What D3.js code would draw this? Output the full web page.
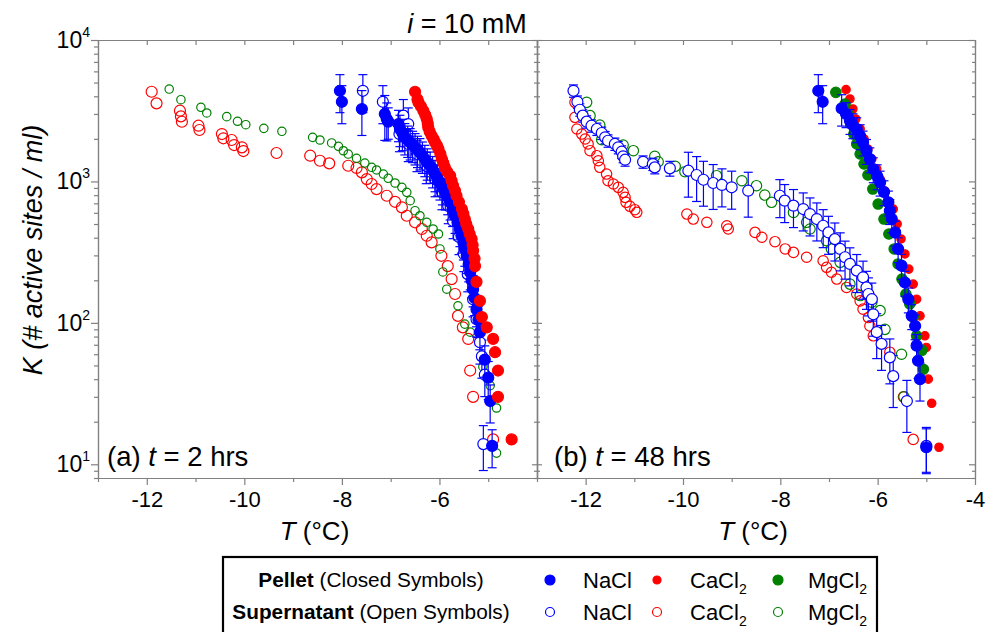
<!DOCTYPE html>
<html><head><meta charset="utf-8">
<script src="https://cdn.jsdelivr.net/npm/d3@7"></script>
<style>
body{margin:0;background:#fff}
svg{display:block}
text{font-family:"Liberation Sans",Arial,sans-serif;fill:#000}
</style>
</head><body>
<svg id="c" width="987" height="632"></svg>
<script>
// ---------- tick labels ----------
const xMajorA = [-12, -10, -8, -6];
const xMajorB = [-12, -10, -8, -6, -4];
const xMinor = [-13, -11, -9, -7, -5];
const xAll = [-13, -12, -11, -10, -9, -8, -7, -6, -5, -4];
const yMajorExp = [1, 2, 3, 4];
const yMinorTicks = [8, 9, 20, 30, 40, 50, 60, 70, 80, 90, 200, 300, 400, 500, 600, 700, 800, 900,
  2000, 3000, 4000, 5000, 6000, 7000, 8000, 9000];
const legendSalts = ["NaCl", "CaCl", "MgCl"];

// ---------- data: [T (°C), K, relative error] ----------
// (a) t = 2 hrs
const naclPelletA = [
  [-8.04,4375,.3],[-8.00,3656,.3],[-7.59,3251,.35],[-7.12,3000,.35],[-7.08,2761,.3],[-7.05,2650,.25],
  [-6.84,2545,.25],[-6.81,2349,.25],[-6.76,2200,.25],[-6.71,2052,.25],[-6.65,1970,.25],[-6.60,1890,.25],
  [-6.55,1810,.25],[-6.50,1743,.25],[-6.45,1670,.25],[-6.40,1606,.25],[-6.35,1520,.25],[-6.30,1440,.25],
  [-6.25,1360,.25],[-6.19,1291,.25],[-6.14,1200,.25],[-6.09,1127,.25],[-6.04,1050,.25],[-5.99,985,.25],
  [-5.94,910,.25],[-5.88,838,.25],[-5.83,775,.25],[-5.78,712,.25],[-5.73,640,.25],[-5.68,572,.25],
  [-5.63,515,.25],[-5.58,461,.25],[-5.55,415,.25],[-5.51,371,.25],[-5.48,335,.25],[-5.44,298,.25],
  [-5.40,260,.25],[-5.37,228,.25],[-5.34,200,.25],[-5.31,173,.25],[-5.28,150,.25],[-5.24,125,.25],
  [-5.20,105,.25],[-5.17,86,.25],[-5.07,55,.25],[-5.00,41,.3],[-4.96,28,.3],[-4.92,13.5,.3]
];
const naclSuperA = [
  [-7.57,4375,.3],[-7.16,3656,.3],[-6.74,2918,.3],[-6.64,2545,.3],[-6.82,2163,.25],[-6.64,1841,.25],
  [-6.46,1563,.25],[-6.27,1285,.25],[-6.09,1039,.25],[-5.95,841,.25],[-5.82,670,.25],[-5.72,525,.25],
  [-5.60,405,.25],[-5.50,307,.25],[-5.42,221,.25],[-5.31,147,.25],[-5.24,106,.25],[-5.17,73,.3],
  [-5.13,58,.3],[-5.07,43,.3],[-5.10,13.9,.35]
];
const caclPelletA = [
  [-6.50,4306],[-6.45,3800],[-6.43,3623],[-6.38,3400],[-6.33,3162],[-6.29,2950],[-6.26,2761],[-6.24,2580],
  [-6.23,2415],[-6.20,2250],[-6.16,2104],[-6.12,1990],[-6.09,1890],[-6.05,1790],[-6.02,1696],[-5.98,1560],
  [-5.95,1439],[-5.92,1350],[-5.89,1258],[-5.84,1170],[-5.78,1097],[-5.75,1010],[-5.72,933],[-5.68,860],
  [-5.65,792],[-5.60,715],[-5.54,638],[-5.51,590],[-5.48,542],[-5.45,500],[-5.41,461],[-5.38,425],
  [-5.34,392],[-5.32,355],[-5.31,324],[-5.28,285],[-5.27,252],[-5.24,195],[-5.17,143],[-5.13,110],
  [-5.03,93],[-4.90,77],[-4.86,62],[-4.80,46],[-4.80,30],[-4.52,15]
];
const caclSuperA = [
  [-11.90,4306],[-11.80,3565],[-11.32,3162],[-11.30,2884],[-11.28,2642],[-10.94,2477],[-10.92,2310],
  [-10.46,2163],[-10.43,2018],[-10.26,1963],[-10.21,1808],[-10.05,1742],[-10.02,1640],[-9.34,1588],
  [-8.65,1520],[-8.45,1400],[-8.26,1342],[-7.87,1291],[-7.70,1245],[-7.59,1160],[-7.49,1039],[-7.39,959],
  [-7.29,883],[-7.08,792],[-6.91,718],[-6.77,656],[-6.67,572],[-6.50,514],[-6.36,461],[-6.26,413],
  [-6.16,371],[-5.96,298],[-5.83,252],[-5.75,204],[-5.68,160],[-5.62,112],[-5.52,93],[-5.41,77],
  [-5.37,46],[-5.31,30],[-4.90,15]
];
const mgclSuperA = [
  [-11.54,4500],[-11.30,3784],[-10.89,3342],[-10.77,3048],[-10.36,2871],[-10.14,2663],[-9.97,2518],
  [-9.60,2374],[-9.23,2262],[-8.60,2050],[-8.45,1963],[-8.21,1871],[-8.07,1771],[-7.97,1648],[-7.87,1562],
  [-7.70,1457],[-7.53,1349],[-7.39,1259],[-7.29,1205],[-7.15,1128],[-7.05,1052],[-6.91,975],[-6.77,908],
  [-6.67,837],[-6.60,731],[-6.50,621],[-6.40,572],[-6.26,514],[-6.13,461],[-6.02,425],[-5.99,333],
  [-5.93,229],[-5.85,173],[-5.62,132],[-5.48,98],[-5.37,86],[-5.11,49],[-4.96,36],[-4.83,25],[-4.83,12]
];
// (b) t = 48 hrs
const naclPelletB = [
  [-7.22,4375,.3],[-7.13,3656,.3],[-6.74,3282,.25],[-6.65,3000,.2],[-6.57,2687,.2],[-6.51,2506,.2],
  [-6.43,2349,.2],[-6.36,2096,.2],[-6.30,1890,.2],[-6.23,1649,.2],[-6.16,1439,.2],[-6.09,1224,.2],
  [-6.01,1092,.2],[-5.95,985,.2],[-5.87,842,.2],[-5.78,712,.2],[-5.75,620,.2],[-5.71,542,.2],
  [-5.64,436,.2],[-5.58,333,.2],[-5.51,254,.2],[-5.44,193,.2],[-5.37,147,.2],[-5.30,112,.2],
  [-5.23,95,.2],[-5.20,69,.2],[-5.17,54,.25],[-5.13,40,.3],[-5.00,13.2,.35]
];
const naclSuperB = [
  [-12.25,4375,.1],[-12.17,3656,.1],[-12.12,3213,.1],[-12.06,2917,.1],[-11.98,2645,.1],[-11.88,2477,.1],
  [-11.77,2349,.1],[-11.67,2200,.1],[-11.60,2050,.1],[-11.54,1940,.1],[-11.40,1841,.1],[-11.33,1742,.1],
  [-11.26,1622,.1],[-11.23,1506,.1],[-11.19,1424,.1],[-10.82,1377,.1],[-10.62,1327,.1],[-10.58,1257,.1],
  [-10.27,1238,.12],[-9.89,1191,.35],[-9.72,1110,.35],[-9.58,1028,.35],[-9.38,975,.35],[-9.20,944,.3],
  [-9.00,909,.3],[-8.66,860,.35],[-8.01,792,.3],[-7.91,731,.3],[-7.73,674,.3],[-7.53,638,.3],
  [-7.39,588,.3],[-7.25,542,.3],[-7.12,486,.3],[-7.01,436,.3],[-6.88,391,.3],[-6.77,333,.3],
  [-6.67,291,.3],[-6.57,261,.3],[-6.43,234,.3],[-6.30,210,.3],[-6.23,178,.3],[-6.19,160,.3],
  [-6.12,147,.3],[-6.09,115,.3],[-6.02,86,.35],[-5.92,71,.35],[-5.75,57,.35],[-5.68,42,.4],
  [-5.40,28,.4],[-5.00,13.5,.35]
];
const caclPelletB = [
  [-6.65,4457],[-6.57,3828],[-6.51,3251],[-6.45,2761],[-6.36,2349],[-6.28,1995],[-6.20,1695],[-6.12,1440],
  [-6.02,1224],[-5.95,1040],[-5.85,855],[-5.68,638],[-5.60,500],[-5.52,392],[-5.44,307],[-5.36,240],
  [-5.27,188],[-5.20,147],[-5.13,112],[-5.03,81],[-5.00,67],[-4.96,40],[-4.89,27],[-4.74,13.2]
];
const caclSuperB = [
  [-12.22,3623],[-12.22,2838],[-12.18,2349],[-12.08,2163],[-12.01,1995],[-11.95,1841],[-11.91,1649],
  [-11.77,1520],[-11.74,1400],[-11.71,1259],[-11.57,1128],[-11.54,1011],[-11.43,959],[-11.33,908],
  [-11.23,837],[-11.19,772],[-11.17,712],[-11.09,667],[-10.99,631],[-10.95,605],[-9.92,588],[-9.79,542],
  [-9.51,514],[-9.10,486],[-9.07,461],[-8.52,436],[-8.38,403],[-8.11,375],[-7.90,333],[-7.73,315],
  [-7.46,291],[-7.12,275],[-7.05,247],[-6.95,228],[-6.84,204],[-6.64,178],[-6.43,160],[-6.36,143],
  [-6.30,125],[-6.19,109],[-6.16,95],[-6.09,81],[-5.75,62],[-5.47,30],[-5.27,15]
];
const mgclPelletB = [
  [-6.86,4266],[-6.67,3524],[-6.61,3000],[-6.55,2547],[-6.49,2163],[-6.43,1841],[-6.36,1563],[-6.28,1328],
  [-6.20,1110],[-6.10,883],[-5.99,692],[-5.87,542],[-5.77,425],[-5.66,333],[-5.58,261],[-5.50,204],
  [-5.42,160],[-5.34,136],[-5.27,110],[-5.20,81],[-5.09,64],[-5.06,47]
];
const mgclSuperB = [
  [-11.98,3623],[-11.91,2918],[-11.71,2506],[-11.67,1973],[-11.23,1808],[-11.02,1649],[-10.58,1505],
  [-10.51,1378],[-10.16,1279],[-9.96,1172],[-9.31,1098],[-8.79,1011],[-8.49,933],[-8.32,801],[-8.18,712],
  [-7.73,604],[-7.46,514],[-7.39,461],[-7.05,381],[-6.95,333],[-6.77,268],[-6.57,188],[-6.36,156],
  [-6.12,140],[-5.95,122],[-5.85,90],[-5.51,60],[-5.46,30]
];

// ---------- colours ----------
const BLUE = "#0000ff", RED = "#ff0000", GREEN = "#008000", AXIS = "#808080";

// ---------- scales ----------
const svg = d3.select("#c");
const L = 98, M = 537, R = 975, T = 40, B = 478;
const xA = d3.scaleLinear().domain([-13, -4]).range([L, M]);
const xB = d3.scaleLinear().domain([-13, -4]).range([M, R]);
const y = d3.scaleLog().domain([8, 10000]).range([B, T]);
const yMajor = yMajorExp.map(e => Math.pow(10, e));

// ---------- axes ----------
function styleAxis(g) {
  g.selectAll("path.domain").attr("stroke", AXIS).attr("stroke-width", 1.2);
  g.selectAll(".tick line").attr("stroke", AXIS).attr("stroke-width", 1.2);
  g.selectAll(".tick text").attr("fill", "#000").style("font-size", "22px")
    .style("font-family", '"Liberation Sans",Arial,sans-serif');
}
function yAxes(x0, gen, majorSize, minorSize) {
  svg.append("g").attr("transform", `translate(${x0},0)`)
    .call(gen(y).tickValues(yMajor).tickSize(majorSize).tickSizeOuter(0).tickFormat(""))
    .call(styleAxis);
  svg.append("g").attr("transform", `translate(${x0},0)`)
    .call(gen(y).tickValues(yMinorTicks).tickSize(minorSize).tickSizeOuter(0).tickFormat(""))
    .call(styleAxis);
}
yAxes(L, d3.axisLeft, 7, 4);
yAxes(M, d3.axisLeft, 5, 3);
yAxes(M, d3.axisRight, 5, 3);
yAxes(R, d3.axisLeft, 6, 3);

function xAxes(x, majors) {
  svg.append("g").attr("transform", `translate(0,${B})`)
    .call(d3.axisBottom(x).tickValues(majors).tickSize(7).tickSizeOuter(0).tickPadding(6).tickFormat(d => String(d)))
    .call(styleAxis);
  svg.append("g").attr("transform", `translate(0,${B})`)
    .call(d3.axisBottom(x).tickValues(xMinor).tickSize(4).tickSizeOuter(0).tickFormat(""))
    .call(styleAxis);
  svg.append("g").attr("transform", `translate(0,${T})`)
    .call(d3.axisBottom(x).tickValues(xAll).tickSize(5).tickSizeOuter(0).tickFormat(""))
    .call(styleAxis);
}
xAxes(xA, xMajorA);
xAxes(xB, xMajorB);

// y tick labels 10^n
const yl = svg.append("g");
yMajorExp.forEach(e => {
  const t = yl.append("text").attr("x", 90).attr("y", y(Math.pow(10, e)) + 8)
    .attr("text-anchor", "end").style("font-size", "23px");
  t.append("tspan").text("10");
  t.append("tspan").attr("dy", -11).style("font-size", "14px").text(e);
});

// ---------- series ----------
function errorBars(g, x, data, color) {
  const cap = 4.5;
  const eb = g.append("g").attr("stroke", color).attr("stroke-width", 1.2).attr("fill", "none");
  data.forEach(d => {
    const cx = x(d[0]);
    const lo = y(d[1] * (1 - d[2])), hi = y(d[1] * (1 + d[2]));
    eb.append("line").attr("x1", cx).attr("x2", cx).attr("y1", lo).attr("y2", hi);
    eb.append("line").attr("x1", cx - cap).attr("x2", cx + cap).attr("y1", lo).attr("y2", lo);
    eb.append("line").attr("x1", cx - cap).attr("x2", cx + cap).attr("y1", hi).attr("y2", hi);
  });
}
function points(g, x, data, color, filled, r, openFill) {
  g.append("g").selectAll("circle").data(data).join("circle")
    .attr("cx", d => x(d[0])).attr("cy", d => y(d[1])).attr("r", r)
    .attr("fill", filled ? color : (openFill || "none"))
    .attr("stroke", color).attr("stroke-width", 1.2);
}
const gA = svg.append("g");
points(gA, xA, caclSuperA, RED, false, 5.5);
points(gA, xA, mgclSuperA, GREEN, false, 4.2);
errorBars(gA, xA, naclSuperA, BLUE);
points(gA, xA, naclSuperA, BLUE, false, 5.5, "#fff");
errorBars(gA, xA, naclPelletA, BLUE);
points(gA, xA, naclPelletA, BLUE, true, 5.5);
points(gA, xA, caclPelletA, RED, true, 5.5);

const gB = svg.append("g");
points(gB, xB, caclSuperB, RED, false, 5.2);
points(gB, xB, mgclSuperB, GREEN, false, 5.2);
errorBars(gB, xB, naclSuperB, BLUE);
points(gB, xB, naclSuperB, BLUE, false, 5.5, "#fff");
points(gB, xB, caclPelletB, RED, true, 4.2);
points(gB, xB, mgclPelletB, GREEN, true, 5.2);
errorBars(gB, xB, naclPelletB, BLUE);
points(gB, xB, naclPelletB, BLUE, true, 5.5);

// ---------- texts ----------
const title = svg.append("text").attr("x", 467).attr("y", 33).attr("text-anchor", "middle").style("font-size", "27px");
title.append("tspan").style("font-style", "italic").text("i");
title.append("tspan").text(" = 10 mM");

svg.append("text").attr("transform", "translate(42,250) rotate(-90)").attr("text-anchor", "middle")
  .style("font-size", "27px").style("font-style", "italic").text("K (# active sites / ml)");

[[xA, "(a) ", " = 2 hrs", 107], [xB, "(b) ", " = 48 hrs", 554]].forEach(([x, a, b, px]) => {
  const xt = svg.append("text").attr("x", (x.range()[0] + x.range()[1]) / 2 - 3).attr("y", 540)
    .attr("text-anchor", "middle").style("font-size", "26px");
  xt.append("tspan").style("font-style", "italic").text("T");
  xt.append("tspan").text(" (°C)");
  const pl = svg.append("text").attr("x", px).attr("y", 466).style("font-size", "27.5px");
  pl.append("tspan").text(a);
  pl.append("tspan").style("font-style", "italic").text("t");
  pl.append("tspan").text(b);
});

// ---------- legend ----------
const lg = svg.append("g");
lg.append("rect").attr("x", 223).attr("y", 557).attr("width", 654).attr("height", 85)
  .attr("fill", "#fff").attr("stroke", "#000").attr("stroke-width", 2.2);
[["Pellet", " (Closed Symbols)", 587], ["Supernatant", " (Open Symbols)", 619]].forEach(([b, n, yy]) => {
  const t = lg.append("text").attr("x", 371).attr("y", yy).attr("text-anchor", "middle").style("font-size", "20.8px");
  t.append("tspan").style("font-weight", "bold").text(b);
  t.append("tspan").text(n);
});
const legCols = [[550, 583, BLUE, 5, false], [657, 690, RED, 4, true], [778, 808, GREEN, 5, true]];
legCols.forEach(([cx, tx, col, r, sub], i) => {
  [[580, true], [612, false]].forEach(([cy, filled]) => {
    lg.append("circle").attr("cx", cx).attr("cy", cy).attr("r", filled ? r : 4.5)
      .attr("fill", filled ? col : "none").attr("stroke", col).attr("stroke-width", 1.2);
    const t = lg.append("text").attr("x", tx).attr("y", cy + 8).style("font-size", "22px");
    t.append("tspan").text(legendSalts[i]);
    if (sub) t.append("tspan").attr("dy", 6).style("font-size", "14px").text("2");
  });
});
</script>
</body></html>
